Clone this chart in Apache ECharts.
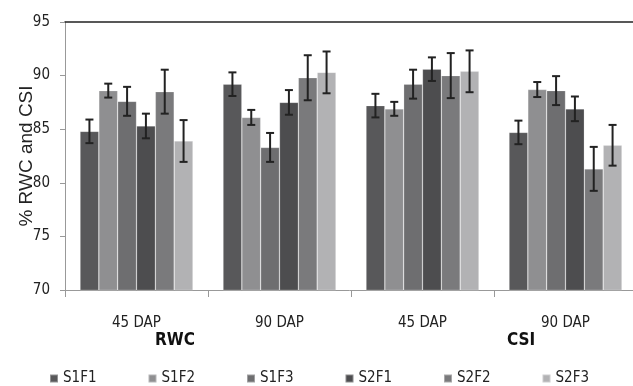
<!DOCTYPE html>
<html>
<head>
<meta charset="utf-8">
<script src="https://cdn.jsdelivr.net/npm/echarts@6/dist/echarts.min.js"></script>
<style>html,body{margin:0;padding:0;background:#fff}#c{width:633px;height:386px}</style>
</head>
<body>
<div id="c"></div>
<script>
var categories = ['45 DAP', '90 DAP', '45 DAP', '90 DAP'];
var groupLabels = ['RWC', 'CSI'];
var seriesNames = ['S1F1', 'S1F2', 'S1F3', 'S2F1', 'S2F2', 'S2F3'];
var S1F1 = [84.8, 89.2, 87.2, 84.7];
var S1F2 = [88.6, 86.1, 86.9, 88.7];
var S1F3 = [87.6, 83.3, 89.2, 88.6];
var S2F1 = [85.3, 87.5, 90.6, 86.9];
var S2F2 = [88.5, 89.8, 90.0, 81.3];
var S2F3 = [83.9, 90.3, 90.4, 83.5];
var S1F1_err = [1.1, 1.1, 1.1, 1.1];
var S1F2_err = [0.65, 0.7, 0.65, 0.7];
var S1F3_err = [1.35, 1.35, 1.35, 1.35];
var S2F1_err = [1.15, 1.15, 1.1, 1.15];
var S2F2_err = [2.05, 2.1, 2.1, 2.05];
var S2F3_err = [1.95, 1.95, 1.95, 1.9];
var yTicks = [70, 75, 80, 85, 90, 95];

var means = [S1F1, S1F2, S1F3, S2F1, S2F2, S2F3];
var errs = [S1F1_err, S1F2_err, S1F3_err, S2F1_err, S2F2_err, S2F3_err];
var colors = ['#58585a', '#8f8f91', '#6e6e70', '#4d4d4f', '#7a7a7c', '#b2b2b4'];
var CAT_GAP = 0.21;
var NARROW = "'DejaVu Sans Condensed', 'Liberation Sans', sans-serif";

var chart = echarts.init(document.getElementById('c'));

var series = seriesNames.map(function (n, i) {
  return {
    name: n, type: 'bar', data: means[i], barGap: 0, barCategoryGap: (CAT_GAP * 100) + '%',
    itemStyle: { color: colors[i], borderColor: 'rgba(255,255,255,0.35)', borderWidth: 0.6 },
    xAxisIndex: 0, yAxisIndex: 0
  };
});

var errData = [];
for (var s = 0; s < means.length; s++) {
  for (var c = 0; c < categories.length; c++) {
    errData.push([c, s, means[s][c] - errs[s][c], means[s][c] + errs[s][c]]);
  }
}

series.push({
  type: 'custom', xAxisIndex: 0, yAxisIndex: 0, z: 5, silent: true,
  data: errData,
  renderItem: function (params, api) {
    var ci = api.value(0), si = api.value(1), lo = api.value(2), hi = api.value(3);
    var catW = api.size([1, 0])[0];
    var groupW = catW * (1 - CAT_GAP);
    var bw = groupW / seriesNames.length;
    var pLo = api.coord([ci, lo]);
    var pHi = api.coord([ci, hi]);
    var x = pLo[0] - groupW / 2 + bw * (si + 0.5);
    var cap = 4;
    var st = { stroke: '#222', lineWidth: 2 };
    return {
      type: 'group',
      children: [
        { type: 'line', shape: { x1: x, y1: pLo[1], x2: x, y2: pHi[1] }, style: st },
        { type: 'line', shape: { x1: x - cap, y1: pLo[1], x2: x + cap, y2: pLo[1] }, style: st },
        { type: 'line', shape: { x1: x - cap, y1: pHi[1], x2: x + cap, y2: pHi[1] }, style: st }
      ]
    };
  }
});

chart.setOption({
  animation: false,
  backgroundColor: '#fff',
  grid: { left: 65, top: 22, width: 572, height: 268, containLabel: false, outerBoundsMode: 'none' },
  legend: {
    data: seriesNames, left: 44, top: 366, itemWidth: 8, itemHeight: 8, itemGap: 51,
    icon: 'rect',
    textStyle: { fontFamily: NARROW, fontSize: 15, color: '#222' }
  },
  xAxis: [{
    type: 'category', data: categories, position: 'bottom',
    axisLine: { lineStyle: { color: '#999', width: 1 } },
    axisTick: { show: true, length: 7, lineStyle: { color: '#999' } },
    axisLabel: { margin: 26, fontFamily: NARROW, fontSize: 15, color: '#222' }
  }, {
    type: 'category', data: categories, position: 'top',
    axisLine: { show: true, lineStyle: { color: '#222', width: 1.5 } },
    axisTick: { show: false }, axisLabel: { show: false }
  }],
  yAxis: {
    type: 'value', min: yTicks[0], max: yTicks[yTicks.length - 1], interval: 5,
    name: '% RWC and CSI', nameLocation: 'middle', nameGap: 29, nameRotate: 90,
    nameMoveOverlap: false,
    nameTextStyle: { fontFamily: "'Liberation Sans', sans-serif", fontSize: 19, color: '#222' },
    axisLine: { show: true, lineStyle: { color: '#999' } },
    axisTick: { show: true, length: 5, lineStyle: { color: '#999' } },
    axisLabel: { margin: 15, fontFamily: NARROW, fontSize: 15, color: '#222' },
    splitLine: { show: false }
  },
  graphic: [
    { type: 'text', x: 175, y: 341, style: { text: groupLabels[0], font: "bold 17px " + NARROW, fill: '#111', textAlign: 'center', textVerticalAlign: 'middle' } },
    { type: 'text', x: 521, y: 341, style: { text: groupLabels[1], font: "bold 17px " + NARROW, fill: '#111', textAlign: 'center', textVerticalAlign: 'middle' } }
  ],
  series: series
});
</script>
</body>
</html>
